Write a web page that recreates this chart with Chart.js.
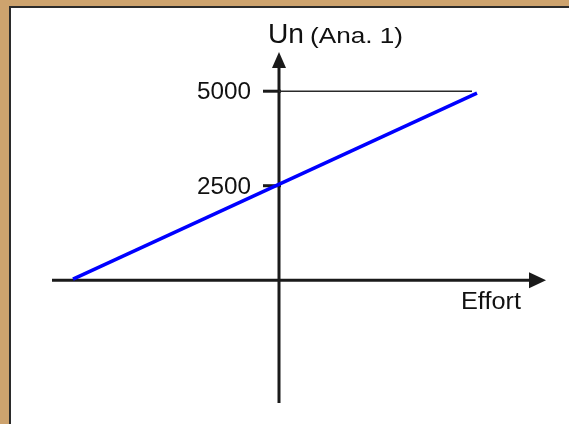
<!DOCTYPE html>
<html>
<head>
<meta charset="utf-8">
<script src="https://cdn.jsdelivr.net/npm/chart.js@4/dist/chart.umd.min.js"></script>
<style>
  html, body { margin: 0; padding: 0; }
  body { width: 569px; height: 424px; background: #cda36e; position: relative; overflow: hidden; }
  #frame { position: absolute; left: 9px; top: 6px; width: 600px; height: 460px;
           background: #fff; border-left: 2px solid #2b2b2b; border-top: 2px solid #2b2b2b; }
  #chart { position: absolute; left: 0; top: 0; }
</style>
</head>
<body>
<div id="frame"></div>
<canvas id="chart" width="569" height="424"></canvas>
<script>
// schematic: Un (Ana. 1) against effort
const effortPoints = [-4.12, 3.96];
const unValues = [30, 4950];
const refEffort = [0, 3.86];
const refValues = [5000, 5000];
const yTicks = [2500, 5000];
const yTickLabels = ['2500', '5000'];
const axisTitleY = ['Un', '(Ana. 1)'];
const axisTitleX = 'Effort';

const FONT = '"Liberation Sans", Arial, sans-serif';

// draw text stretched horizontally to fit a given width
function fitText(ctx, txt, left, width, baseline, size) {
    ctx.save();
    ctx.font = size + 'px ' + FONT;
    const w = ctx.measureText(txt).width;
    ctx.translate(left, baseline);
    ctx.scale(width / w, 1);
    ctx.textAlign = 'left';
    ctx.textBaseline = 'alphabetic';
    ctx.fillStyle = '#111';
    ctx.fillText(txt, 0, 0);
    ctx.restore();
}

const schemaAxes = {
    id: 'schemaAxes',
    beforeDatasetsDraw(chart) {
        const ctx = chart.ctx;
        const xs = chart.scales.x, ys = chart.scales.y;
        const x0 = xs.getPixelForValue(0), y0 = ys.getPixelForValue(0);
        ctx.save();
        ctx.strokeStyle = '#1a1a1a';
        ctx.fillStyle = '#1a1a1a';
        ctx.lineWidth = 3;
        // x axis
        const xl = xs.getPixelForValue(-4.54), xr = xs.getPixelForValue(5.34);
        ctx.beginPath();
        ctx.moveTo(xl, y0);
        ctx.lineTo(xr - 12, y0);
        ctx.stroke();
        ctx.beginPath();
        ctx.moveTo(xr, y0);
        ctx.lineTo(xr - 17, y0 - 8);
        ctx.lineTo(xr - 17, y0 + 8);
        ctx.closePath();
        ctx.fill();
        // y axis
        const yb = ys.getPixelForValue(-3250), yt = ys.getPixelForValue(6040);
        ctx.beginPath();
        ctx.moveTo(x0, yb);
        ctx.lineTo(x0, yt + 12);
        ctx.stroke();
        ctx.beginPath();
        ctx.moveTo(x0, yt);
        ctx.lineTo(x0 - 7, yt + 16);
        ctx.lineTo(x0 + 7, yt + 16);
        ctx.closePath();
        ctx.fill();
        // ticks
        yTicks.forEach(function (v) {
            const py = ys.getPixelForValue(v);
            ctx.beginPath();
            ctx.moveTo(x0 - 16, py);
            ctx.lineTo(x0 + 2, py);
            ctx.stroke();
        });
        ctx.restore();
    },
    afterDatasetsDraw(chart) {
        const ctx = chart.ctx;
        const ys = chart.scales.y;
        yTicks.forEach(function (v, i) {
            const py = ys.getPixelForValue(v);
            fitText(ctx, yTickLabels[i], 197, 54, py + 8, 23);
        });
        fitText(ctx, axisTitleY[0], 268, 36, 43, 27);
        fitText(ctx, axisTitleY[1], 310, 93, 43, 22);
        fitText(ctx, axisTitleX, 461, 60, 309, 23);
    }
};

const ctx = document.getElementById('chart').getContext('2d');
const chart = new Chart(ctx, {
    type: 'line',
    data: {
        datasets: [{
            label: 'Un',
            data: effortPoints.map(function (x, i) { return { x: x, y: unValues[i] }; }),
            borderColor: '#0000ff',
            borderWidth: 3.5,
            pointRadius: 0,
            borderCapStyle: 'butt'
        }, {
            label: '5000',
            data: refEffort.map(function (x, i) { return { x: x, y: refValues[i] }; }),
            borderColor: '#2a2a2a',
            borderWidth: 1.5,
            pointRadius: 0
        }]
    },
    options: {
        responsive: false,
        animation: false,
        layout: { padding: 0 },
        scales: {
            x: { type: 'linear', min: -5.58, max: 5.8, display: false },
            y: { type: 'linear', min: -3804, max: 7413, display: false }
        },
        plugins: {
            legend: { display: false },
            tooltip: { enabled: false }
        }
    },
    plugins: [schemaAxes]
});
</script>
</body>
</html>
